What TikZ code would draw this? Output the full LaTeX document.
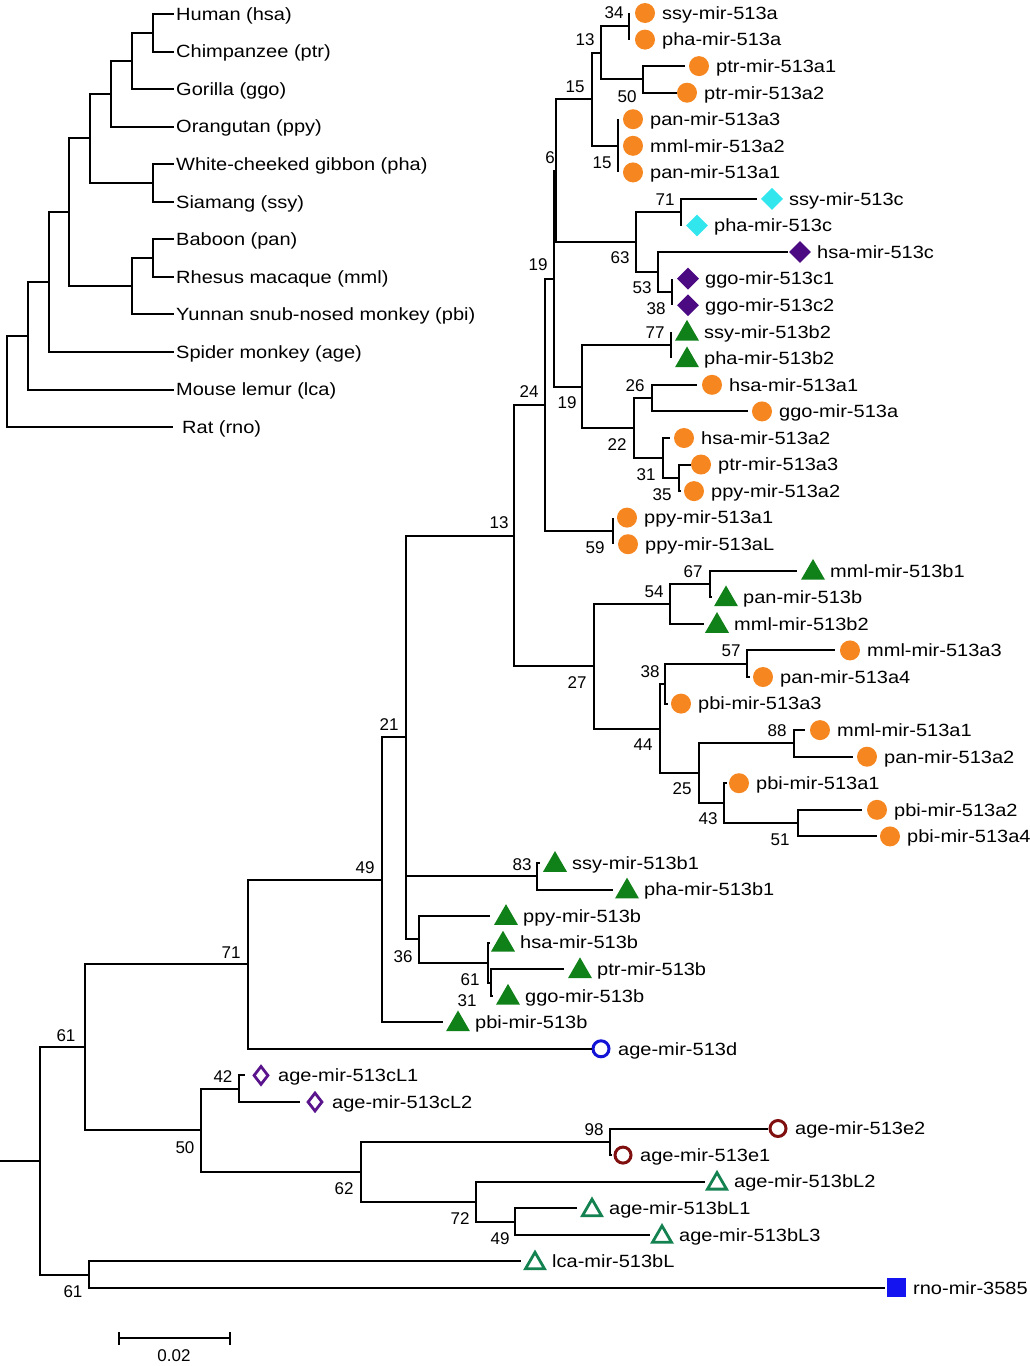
\documentclass[tikz,border=0pt]{standalone}
\usepackage{fontspec}
\setmainfont{Liberation Sans}
\newfontfamily\lblfont{Liberation Sans}[FakeStretch=1.13]
\usetikzlibrary{shapes.geometric}

\definecolor{orangeA}{RGB}{246,134,31}
\definecolor{cyanC}{RGB}{50,230,238}
\definecolor{indigoC}{RGB}{75,10,130}
\definecolor{greenB}{RGB}{16,128,24}
\definecolor{blueD}{RGB}{20,20,215}
\definecolor{redE}{RGB}{128,16,16}
\definecolor{greenBL}{RGB}{20,130,80}
\definecolor{purpleCL}{RGB}{90,20,140}
\definecolor{blueR}{RGB}{20,20,240}

% leaf of the gene tree: name, row, end of branch, marker x, marker style, text
\newcommand{\gleaf}[6]{%
  \coordinate (#1) at (#3,#2);
  \node[#5] (#1m) at (#4,#2) {};
  \node[lbl] (#1t) at (#4+17,#2+6.3) {#6};
}
% leaf of the species tree: name, row, text
\newcommand{\sleaf}[3]{%
  \coordinate (#1) at (174,#2);
  \node[lbl] (#1t) at (176,#2+6.3) {#3};
}
% bootstrap value
\newcommand{\bsup}[4]{\node[sup] (#1) at (#2,#3) {#4};}

\begin{document}
\begin{tikzpicture}[x=1pt, y=-1pt,
    branch/.style={line width=2pt},
    lbl/.style={font=\lblfont\fontsize{17.7}{20}\selectfont, inner sep=0, anchor=base west},
    sup/.style={font=\fontsize{17}{19}\selectfont, inner sep=0},
    mA/.style={circle, fill=orangeA, minimum size=20pt, inner sep=0},
    mC/.style={diamond, fill=cyanC, minimum size=22pt, inner sep=0},
    mCh/.style={diamond, fill=indigoC, minimum size=22pt, inner sep=0},
    mB/.style={regular polygon, regular polygon sides=3, fill=greenB, minimum size=27.7pt, inner sep=0, yshift=-2pt},
    mD/.style={circle, draw=blueD, line width=3pt, minimum size=16pt, inner sep=0},
    mE/.style={circle, draw=redE, line width=3pt, minimum size=16pt, inner sep=0},
    mCL/.style={diamond, draw=purpleCL, line width=2.8pt, minimum width=15pt, minimum height=19pt, inner sep=0},
    mBL/.style={regular polygon, regular polygon sides=3, draw=greenBL, line width=2.8pt, minimum size=22pt, inner sep=0, yshift=-2pt},
    mR/.style={rectangle, fill=blueR, minimum size=19pt, inner sep=0}]
        \useasboundingbox (0,0) rectangle (1030,1366);

        % Species tree
        \sleaf{spHsa}{14}{Human (hsa)}
        \sleaf{spPtr}{51.5}{Chimpanzee (ptr)}
        \sleaf{spGgo}{89.1}{Gorilla (ggo)}
        \sleaf{spPpy}{126.6}{Orangutan (ppy)}
        \sleaf{spPha}{164.2}{White-cheeked gibbon (pha)}
        \sleaf{spSsy}{201.7}{Siamang (ssy)}
        \sleaf{spPan}{239.3}{Baboon (pan)}
        \sleaf{spMml}{276.8}{Rhesus macaque (mml)}
        \sleaf{spPbi}{314.4}{Yunnan snub-nosed monkey (pbi)}
        \sleaf{spAge}{351.9}{Spider monkey (age)}
        \sleaf{spLca}{389.5}{Mouse lemur (lca)}
        \coordinate (spRno) at (173,427);
        \node[lbl] (spRnot) at (182,433.3) {Rat (rno)};

        \coordinate (sHC) at (153,32.8);
        \coordinate (sHCG) at (132,60.9);
        \coordinate (sGA) at (111,93.8);
        \coordinate (sGib) at (153,182.9);
        \coordinate (sHom) at (90,138.4);
        \coordinate (sBR) at (153,258.1);
        \coordinate (sOWM) at (132,286.2);
        \coordinate (sCat) at (69,212.3);
        \coordinate (sAnth) at (49,282.1);
        \coordinate (sPri) at (28,335.8);
        \coordinate (sRoot) at (7,381.4);

        \draw[branch] (sHC) |- (spHsa);  \draw[branch] (sHC) |- (spPtr);
        \draw[branch] (sHCG) |- (sHC);   \draw[branch] (sHCG) |- (spGgo);
        \draw[branch] (sGA) |- (sHCG);   \draw[branch] (sGA) |- (spPpy);
        \draw[branch] (sGib) |- (spPha); \draw[branch] (sGib) |- (spSsy);
        \draw[branch] (sHom) |- (sGA);   \draw[branch] (sHom) |- (sGib);
        \draw[branch] (sBR) |- (spPan);  \draw[branch] (sBR) |- (spMml);
        \draw[branch] (sOWM) |- (sBR);   \draw[branch] (sOWM) |- (spPbi);
        \draw[branch] (sCat) |- (sHom);  \draw[branch] (sCat) |- (sOWM);
        \draw[branch] (sAnth) |- (sCat); \draw[branch] (sAnth) |- (spAge);
        \draw[branch] (sPri) |- (sAnth); \draw[branch] (sPri) |- (spLca);
        \draw[branch] (sRoot) |- (sPri); \draw[branch] (sRoot) |- (spRno);

        % Gene tree: leaves
        \gleaf{ssyA}{13.0}{629}{645}{mA}{ssy-mir-513a}
        \gleaf{phaA}{39.6}{629}{645}{mA}{pha-mir-513a}
        \gleaf{ptrAa}{66.1}{685}{699}{mA}{ptr-mir-513a1}
        \gleaf{ptrAb}{92.7}{677}{687}{mA}{ptr-mir-513a2}
        \gleaf{panAc}{119.2}{618}{633}{mA}{pan-mir-513a3}
        \gleaf{mmlAb}{145.8}{618}{633}{mA}{mml-mir-513a2}
        \gleaf{panAa}{172.4}{618}{633}{mA}{pan-mir-513a1}
        \gleaf{ssyC}{198.9}{757}{772}{mC}{ssy-mir-513c}
        \gleaf{phaC}{225.5}{681}{697}{mC}{pha-mir-513c}
        \gleaf{hsaC}{252.0}{788}{800}{mCh}{hsa-mir-513c}
        \gleaf{ggoCa}{278.6}{672}{688}{mCh}{ggo-mir-513c1}
        \gleaf{ggoCb}{305.2}{672}{688}{mCh}{ggo-mir-513c2}
        \gleaf{ssyBb}{331.7}{671}{687}{mB}{ssy-mir-513b2}
        \gleaf{phaBb}{358.3}{671}{687}{mB}{pha-mir-513b2}
        \gleaf{hsaAa}{384.8}{697}{712}{mA}{hsa-mir-513a1}
        \gleaf{ggoA}{411.4}{748}{762}{mA}{ggo-mir-513a}
        \gleaf{hsaAb}{438.0}{670}{684}{mA}{hsa-mir-513a2}
        \gleaf{ptrAc}{464.5}{691}{701}{mA}{ptr-mir-513a3}
        \gleaf{ppyAb}{491.1}{681}{694}{mA}{ppy-mir-513a2}
        \gleaf{ppyAa}{517.6}{613}{627}{mA}{ppy-mir-513a1}
        \gleaf{ppyAL}{544.2}{613}{628}{mA}{ppy-mir-513aL}
        \gleaf{mmlBa}{570.8}{797}{813}{mB}{mml-mir-513b1}
        \gleaf{panB}{597.3}{712}{726}{mB}{pan-mir-513b}
        \gleaf{mmlBb}{623.9}{704}{717}{mB}{mml-mir-513b2}
        \gleaf{mmlAc}{650.4}{835}{850}{mA}{mml-mir-513a3}
        \gleaf{panAd}{677.0}{750}{763}{mA}{pan-mir-513a4}
        \gleaf{pbiAc}{703.6}{668}{681}{mA}{pbi-mir-513a3}
        \gleaf{mmlAa}{730.1}{805}{820}{mA}{mml-mir-513a1}
        \gleaf{panAb}{756.7}{853}{867}{mA}{pan-mir-513a2}
        \gleaf{pbiAa}{783.2}{727}{739}{mA}{pbi-mir-513a1}
        \gleaf{pbiAb}{809.8}{862}{877}{mA}{pbi-mir-513a2}
        \gleaf{pbiAd}{836.4}{877}{890}{mA}{pbi-mir-513a4}
        \gleaf{ssyBa}{862.9}{540}{555}{mB}{ssy-mir-513b1}
        \gleaf{phaBa}{889.5}{613}{627}{mB}{pha-mir-513b1}
        \gleaf{ppyB}{916.0}{490}{506}{mB}{ppy-mir-513b}
        \gleaf{hsaB}{942.6}{490}{503}{mB}{hsa-mir-513b}
        \gleaf{ptrB}{969.2}{564}{580}{mB}{ptr-mir-513b}
        \gleaf{ggoB}{995.7}{493}{508}{mB}{ggo-mir-513b}
        \gleaf{pbiB}{1022.3}{443}{458}{mB}{pbi-mir-513b}
        \gleaf{ageD}{1048.8}{592}{601}{mD}{age-mir-513d}
        \gleaf{ageCLa}{1075.4}{245}{261}{mCL}{age-mir-513cL1}
        \gleaf{ageCLb}{1102.0}{300}{315}{mCL}{age-mir-513cL2}
        \gleaf{ageEb}{1128.5}{768}{778}{mE}{age-mir-513e2}
        \gleaf{ageEa}{1155.1}{612}{623}{mE}{age-mir-513e1}
        \gleaf{ageBLb}{1181.6}{705}{717}{mBL}{age-mir-513bL2}
        \gleaf{ageBLa}{1208.2}{577}{592}{mBL}{age-mir-513bL1}
        \gleaf{ageBLc}{1234.8}{650}{662}{mBL}{age-mir-513bL3}
        \gleaf{lcaBL}{1261.3}{521}{535}{mBL}{lca-mir-513bL}
        \gleaf{rno}{1287.9}{885}{896}{mR}{rno-mir-3585}

        % Gene tree: inner nodes
        \coordinate (aSP) at (629,26.3);
        \coordinate (aPtr) at (643,79.4);
        \coordinate (aApe) at (601,52.9);
        \coordinate (aMac) at (618,145.8);
        \coordinate (aUp) at (592,99.4);
        \coordinate (cGib) at (681,212.2);
        \coordinate (cGgo) at (672,291.9);
        \coordinate (cHsa) at (658,272.0);
        \coordinate (cAll) at (636,242.1);
        \coordinate (acUp) at (556,170.7);
        \coordinate (bGib2) at (671,345.0);
        \coordinate (aHG) at (652,398.1);
        \coordinate (aPP) at (679,477.8);
        \coordinate (aHPP) at (663,457.9);
        \coordinate (aHom) at (634,428.0);
        \coordinate (abHom) at (582,386.5);
        \coordinate (acb) at (554,278.6);
        \coordinate (aPpy) at (613,530.9);
        \coordinate (ape) at (545,404.8);
        \coordinate (bMaca) at (710,584.1);
        \coordinate (bMac) at (670,604.0);
        \coordinate (aMP) at (747,663.7);
        \coordinate (aMPP) at (665,683.7);
        \coordinate (aMPb) at (794,743.4);
        \coordinate (aPbi) at (798,823.1);
        \coordinate (aPbib) at (724,803.2);
        \coordinate (aMacb) at (699,773.3);
        \coordinate (aOWM) at (660,728.5);
        \coordinate (owm) at (594,666.2);
        \coordinate (catA) at (514,535.5);
        \coordinate (bGib1) at (537,876.2);
        \coordinate (bPG) at (491,982.5);
        \coordinate (bHom) at (488,962.6);
        \coordinate (bApe) at (419,939.3);
        \coordinate (cat) at (406,737.4);
        \coordinate (catB) at (382,879.9);
        \coordinate (anth) at (248,964.3);
        \coordinate (cL) at (239,1088.7);
        \coordinate (eAge) at (610,1141.8);
        \coordinate (bL13) at (515,1221.5);
        \coordinate (bL) at (476,1201.6);
        \coordinate (ebAge) at (361,1171.7);
        \coordinate (ageL) at (201,1130.2);
        \coordinate (pri) at (85,1047.3);
        \coordinate (outg) at (89,1274.6);
        \coordinate (root) at (40,1161.0);
        \coordinate (stub) at (0,1161.0);

        % Gene tree: branches
        \draw[branch] (aSP) |- (ssyA);   \draw[branch] (aSP) |- (phaA);
        \draw[branch] (aPtr) |- (ptrAa); \draw[branch] (aPtr) |- (ptrAb);
        \draw[branch] (aApe) |- (aSP);   \draw[branch] (aApe) |- (aPtr);
        \draw[branch] (aMac) |- (panAc); \draw[branch] (aMac) |- (mmlAb);
        \draw[branch] (aMac) |- (panAa);
        \draw[branch] (aUp) |- (aApe);   \draw[branch] (aUp) |- (aMac);
        \draw[branch] (cGib) |- (ssyC);  \draw[branch] (cGib) |- (phaC);
        \draw[branch] (cGgo) |- (ggoCa); \draw[branch] (cGgo) |- (ggoCb);
        \draw[branch] (cHsa) |- (hsaC);  \draw[branch] (cHsa) |- (cGgo);
        \draw[branch] (cAll) |- (cGib);  \draw[branch] (cAll) |- (cHsa);
        \draw[branch] (acUp) |- (aUp);   \draw[branch] (acUp) |- (cAll);
        \draw[branch] (bGib2) |- (ssyBb); \draw[branch] (bGib2) |- (phaBb);
        \draw[branch] (aHG) |- (hsaAa);  \draw[branch] (aHG) |- (ggoA);
        \draw[branch] (aPP) |- (ptrAc);  \draw[branch] (aPP) |- (ppyAb);
        \draw[branch] (aHPP) |- (hsaAb); \draw[branch] (aHPP) |- (aPP);
        \draw[branch] (aHom) |- (aHG);   \draw[branch] (aHom) |- (aHPP);
        \draw[branch] (abHom) |- (bGib2); \draw[branch] (abHom) |- (aHom);
        \draw[branch] (acb) |- (acUp);   \draw[branch] (acb) |- (abHom);
        \draw[branch] (aPpy) |- (ppyAa); \draw[branch] (aPpy) |- (ppyAL);
        \draw[branch] (ape) |- (acb);    \draw[branch] (ape) |- (aPpy);
        \draw[branch] (bMaca) |- (mmlBa); \draw[branch] (bMaca) |- (panB);
        \draw[branch] (bMac) |- (bMaca); \draw[branch] (bMac) |- (mmlBb);
        \draw[branch] (aMP) |- (mmlAc);  \draw[branch] (aMP) |- (panAd);
        \draw[branch] (aMPP) |- (aMP);   \draw[branch] (aMPP) |- (pbiAc);
        \draw[branch] (aMPb) |- (mmlAa); \draw[branch] (aMPb) |- (panAb);
        \draw[branch] (aPbi) |- (pbiAb); \draw[branch] (aPbi) |- (pbiAd);
        \draw[branch] (aPbib) |- (pbiAa); \draw[branch] (aPbib) |- (aPbi);
        \draw[branch] (aMacb) |- (aMPb); \draw[branch] (aMacb) |- (aPbib);
        \draw[branch] (aOWM) |- (aMPP);  \draw[branch] (aOWM) |- (aMacb);
        \draw[branch] (owm) |- (bMac);   \draw[branch] (owm) |- (aOWM);
        \draw[branch] (catA) |- (ape);   \draw[branch] (catA) |- (owm);
        \draw[branch] (bGib1) |- (ssyBa); \draw[branch] (bGib1) |- (phaBa);
        \draw[branch] (bPG) |- (ptrB);   \draw[branch] (bPG) |- (ggoB);
        \draw[branch] (bHom) |- (hsaB);  \draw[branch] (bHom) |- (bPG);
        \draw[branch] (bApe) |- (ppyB);  \draw[branch] (bApe) |- (bHom);
        \draw[branch] (cat) |- (catA);   \draw[branch] (cat) |- (bGib1);
        \draw[branch] (cat) |- (bApe);
        \draw[branch] (catB) |- (cat);   \draw[branch] (catB) |- (pbiB);
        \draw[branch] (anth) |- (catB);  \draw[branch] (anth) |- (ageD);
        \draw[branch] (cL) |- (ageCLa);  \draw[branch] (cL) |- (ageCLb);
        \draw[branch] (eAge) |- (ageEb); \draw[branch] (eAge) |- (ageEa);
        \draw[branch] (bL13) |- (ageBLa); \draw[branch] (bL13) |- (ageBLc);
        \draw[branch] (bL) |- (ageBLb);  \draw[branch] (bL) |- (bL13);
        \draw[branch] (ebAge) |- (eAge); \draw[branch] (ebAge) |- (bL);
        \draw[branch] (ageL) |- (cL);    \draw[branch] (ageL) |- (ebAge);
        \draw[branch] (pri) |- (anth);   \draw[branch] (pri) |- (ageL);
        \draw[branch] (outg) |- (lcaBL); \draw[branch] (outg) |- (rno);
        \draw[branch] (root) |- (pri);   \draw[branch] (root) |- (outg);
        \draw[branch] (stub) -- (root);

        % Bootstrap values
        \bsup{s34}{614}{13}{34}
        \bsup{s13a}{585}{40}{13}
        \bsup{s50a}{627}{97}{50}
        \bsup{s15a}{575}{87}{15}
        \bsup{s15b}{602}{163}{15}
        \bsup{s6}{550}{158}{6}
        \bsup{s71a}{665}{200}{71}
        \bsup{s63}{620}{258}{63}
        \bsup{s53}{642}{288}{53}
        \bsup{s38a}{656}{309}{38}
        \bsup{s19a}{538}{265}{19}
        \bsup{s77}{655}{333}{77}
        \bsup{s26}{635}{386}{26}
        \bsup{s19b}{567}{403}{19}
        \bsup{s24}{529}{392}{24}
        \bsup{s22}{617}{445}{22}
        \bsup{s31a}{646}{475}{31}
        \bsup{s35}{662}{495}{35}
        \bsup{s59}{595}{548}{59}
        \bsup{s13b}{499}{523}{13}
        \bsup{s67}{693}{572}{67}
        \bsup{s54}{654}{592}{54}
        \bsup{s57}{731}{651}{57}
        \bsup{s38b}{650}{672}{38}
        \bsup{s27}{577}{683}{27}
        \bsup{s44}{643}{745}{44}
        \bsup{s88}{777}{731}{88}
        \bsup{s25}{682}{789}{25}
        \bsup{s43}{708}{819}{43}
        \bsup{s51}{780}{840}{51}
        \bsup{s21}{389}{725}{21}
        \bsup{s49a}{365}{868}{49}
        \bsup{s83}{522}{865}{83}
        \bsup{s36}{403}{957}{36}
        \bsup{s61a}{470}{980}{61}
        \bsup{s31b}{467}{1001}{31}
        \bsup{s71b}{231}{953}{71}
        \bsup{s61b}{66}{1036}{61}
        \bsup{s42}{223}{1077}{42}
        \bsup{s50b}{185}{1148}{50}
        \bsup{s98}{594}{1130}{98}
        \bsup{s62}{344}{1189}{62}
        \bsup{s72}{460}{1219}{72}
        \bsup{s49b}{500}{1239}{49}
        \bsup{s61c}{73}{1292}{61}

        % Scale bar
        \coordinate (sbL) at (119,1338);
        \coordinate (sbR) at (230,1338);
        \draw[branch] (sbL) -- (sbR);
        \draw[branch] ([yshift=6pt]sbL) -- ([yshift=-7pt]sbL);
        \draw[branch] ([yshift=6pt]sbR) -- ([yshift=-7pt]sbR);
        \node[sup] (sbT) at (174,1356) {0.02};
    \end{tikzpicture}
\end{document}
